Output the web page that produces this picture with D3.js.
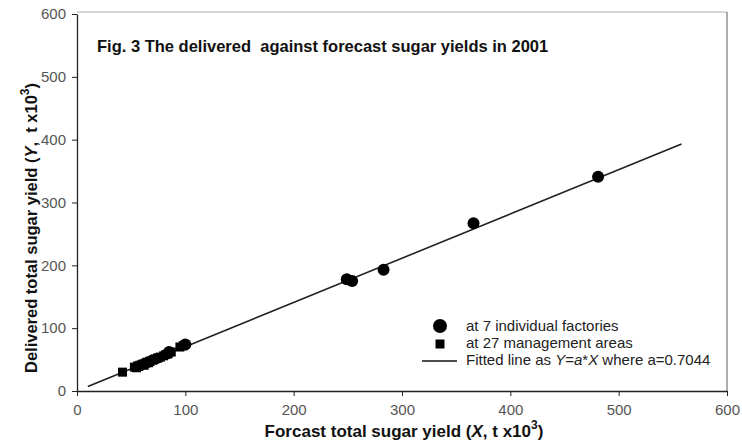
<!DOCTYPE html>
<html>
<head>
<meta charset="utf-8">
<script src="https://cdn.jsdelivr.net/npm/d3@7"></script>
<style>
  body { margin: 0; background: #fff; }
  svg { font-family: "Liberation Sans", Arial, sans-serif; }
  .tick text { fill: #555; font-size: 15px; }
</style>
</head>
<body>
<svg id="chart" width="742" height="440"></svg>
<script>
// values (t x10^3)
var factoryX = [85, 100, 249, 254, 283, 366, 481];
var factoryY = [62, 74, 178, 175, 193, 267, 341];

var areaX = [42, 53, 55, 56, 57, 58, 60, 61, 62, 63, 64, 65, 66, 67, 68, 70, 71, 72, 74, 75, 77, 80, 82, 84, 87, 95, 98];
var areaY = [30, 38, 37, 40, 39, 41, 42, 43, 41, 44, 45, 46, 45, 47, 48, 49, 50, 51, 52, 53, 54, 56, 58, 59, 62, 70, 72];

var slope = 0.7044;
var fitRange = [10, 558];

var xTicks = [0, 100, 200, 300, 400, 500, 600];
var yTicks = [0, 100, 200, 300, 400, 500, 600];

var legendLabels = ["at 7 individual factories", "at 27 management areas"];

var svg = d3.select("#chart");
var margin = {top: 14, right: 15, bottom: 49, left: 77};
var width = 742 - margin.left - margin.right,
    height = 440 - margin.top - margin.bottom;

var x = d3.scaleLinear().domain([0, 600]).range([0, width]);
var y = d3.scaleLinear().domain([0, 600]).range([height, 0]);

var g = svg.append("g")
    .attr("transform", "translate(" + margin.left + "," + margin.top + ")");

// frame (top and right lighter)
g.append("line").attr("x1", 0).attr("x2", width).attr("y1", -2).attr("y2", -2)
    .attr("stroke", "#aaa").attr("stroke-width", 1);
g.append("line").attr("x1", width).attr("x2", width).attr("y1", -2).attr("y2", height)
    .attr("stroke", "#777").attr("stroke-width", 1.2);

var xAxis = d3.axisBottom(x).tickValues(xTicks).tickSize(5).tickSizeOuter(0);
var yAxis = d3.axisLeft(y).tickValues(yTicks).tickSize(5).tickSizeOuter(0);

g.append("g")
    .attr("transform", "translate(0," + height + ")")
    .call(xAxis)
    .call(function(a) { a.selectAll("text").attr("dy", "1.05em"); });

g.append("g")
    .call(yAxis)
    .call(function(a) { a.selectAll("text").attr("dx", "-0.2em"); });

g.selectAll(".domain").attr("stroke", "#222").attr("stroke-width", 1.3);
g.selectAll(".tick line").attr("stroke", "#222");

// fitted line
var fit = fitRange.map(function(v) { return [v, slope * v]; });
g.append("path")
    .datum(fit)
    .attr("fill", "none")
    .attr("stroke", "#222")
    .attr("stroke-width", 1.6)
    .attr("d", d3.line().x(function(d) { return x(d[0]); }).y(function(d) { return y(d[1]); }));

// management areas (squares)
var sq = 9;
g.selectAll(".area")
    .data(areaX)
    .enter().append("rect")
    .attr("class", "area")
    .attr("x", function(d) { return x(d) - sq / 2; })
    .attr("y", function(d, i) { return y(areaY[i]) - sq / 2; })
    .attr("width", sq)
    .attr("height", sq)
    .attr("fill", "#000");

// factories (circles)
g.selectAll(".factory")
    .data(factoryX)
    .enter().append("circle")
    .attr("class", "factory")
    .attr("cx", function(d) { return x(d); })
    .attr("cy", function(d, i) { return y(factoryY[i]); })
    .attr("r", 6)
    .attr("fill", "#000");

// title
svg.append("text")
    .attr("x", 97)
    .attr("y", 52)
    .attr("font-size", 16.5)
    .attr("font-weight", "bold")
    .attr("fill", "#111")
    .attr("xml:space", "preserve")
    .text("Fig. 3 The delivered  against forecast sugar yields in 2001");

// legend
var lg = svg.append("g").attr("transform", "translate(440,0)");
lg.append("circle").attr("cx", 0).attr("cy", 326).attr("r", 7).attr("fill", "#000");
lg.append("rect").attr("x", -4.5).attr("y", 339.5).attr("width", 9).attr("height", 9).attr("fill", "#000");
lg.append("line").attr("x1", -18).attr("x2", 17).attr("y1", 361).attr("y2", 361)
    .attr("stroke", "#111").attr("stroke-width", 1.6);

var legendText = lg.append("g").attr("font-size", 15).attr("fill", "#222");
legendText.selectAll(".lt")
    .data(legendLabels)
    .enter().append("text")
    .attr("x", 26)
    .attr("y", function(d, i) { return 331 + i * 17; })
    .text(function(d) { return d; });

var fitText = legendText.append("text").attr("x", 26).attr("y", 365);
fitText.append("tspan").text("Fitted line as ");
fitText.append("tspan").attr("font-style", "italic").text("Y");
fitText.append("tspan").text("=");
fitText.append("tspan").attr("font-style", "italic").text("a");
fitText.append("tspan").text("*");
fitText.append("tspan").attr("font-style", "italic").text("X");
fitText.append("tspan").text(" where a=" + slope);

// axis titles
var xt = svg.append("text")
    .attr("x", 404)
    .attr("y", 437)
    .attr("text-anchor", "middle")
    .attr("font-size", 17)
    .attr("font-weight", "bold")
    .attr("fill", "#111");
xt.append("tspan").text("Forcast total sugar yield (");
xt.append("tspan").attr("font-style", "italic").text("X");
xt.append("tspan").text(", t x10");
xt.append("tspan").attr("font-size", 12).attr("dy", -8).text("3");
xt.append("tspan").attr("dy", 8).text(")");

var yt = svg.append("text")
    .attr("transform", "translate(37,228) rotate(-90)")
    .attr("text-anchor", "middle")
    .attr("font-size", 16.5)
    .attr("font-weight", "bold")
    .attr("fill", "#111")
    .attr("xml:space", "preserve");
yt.append("tspan").text("Delivered total sugar yield (");
yt.append("tspan").attr("font-style", "italic").text("Y");
yt.append("tspan").text(",  t x10");
yt.append("tspan").attr("font-size", 12).attr("dy", -8).text("3");
yt.append("tspan").attr("dy", 8).text(")");
</script>
</body>
</html>
